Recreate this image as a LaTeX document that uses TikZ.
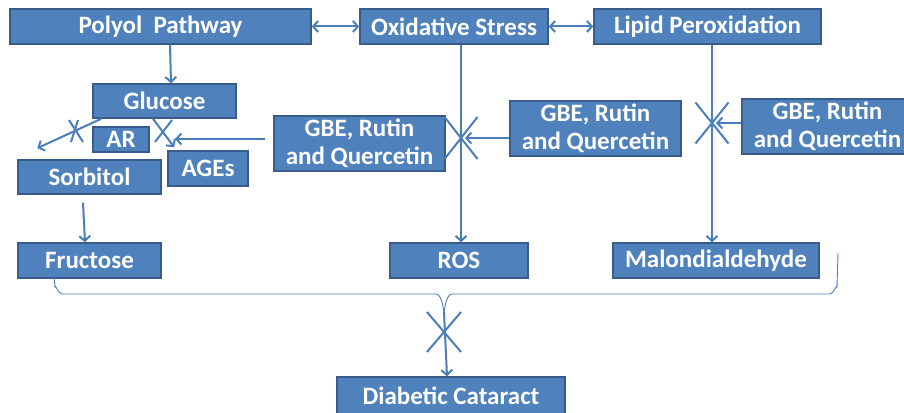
\documentclass[tikz,border=0pt]{standalone}
\usepackage{fontspec}
\setmainfont{Carlito}
\usetikzlibrary{arrows.meta}
\definecolor{boxfill}{HTML}{4F81BD}
\definecolor{boxline}{HTML}{385D8A}
\definecolor{linkblue}{HTML}{4A7EBB}
\begin{document}
\begin{tikzpicture}[x = 1pt, y = -1pt, line width = 2pt,
		box/.style = {draw = boxline, fill = boxfill, line width = 1.5pt, text = white,
			font = \fontsize{25}{28}\selectfont\bfseries, inner sep = 0pt, align = center,
			minimum height = 35pt},
		link/.style = {draw = linkblue, -{Straight Barb[length = 5pt, width = 11pt]}},
		twoway/.style = {draw = linkblue,
			{Straight Barb[length = 5pt, width = 11pt]}-{Straight Barb[length = 5pt, width = 11pt]}},
		cross/.style = {draw = linkblue},
		brace/.style = {draw = linkblue, line width = 0.9pt}]
		\useasboundingbox (0,0) rectangle (904,412);
		% top row
		\node [box, minimum width = 301pt] (polyol) at (160.5,26.5) {Polyol~ Pathway};
		\node [box, minimum width = 188pt] (oxid) at (454,26.5) {Oxidative Stress};
		\node [box, minimum width = 227pt] (lipid) at (707.5,26.5) {Lipid Peroxidation};
		% polyol branch
		\node [box, minimum width = 143pt, minimum height = 34pt] (glucose) at (164.5,101) {Glucose};
		\node [box, minimum width = 56pt, minimum height = 25pt] (ar) at (121,139.5) {AR};
		\node [box, minimum width = 143pt, minimum height = 34pt] (sorbitol) at (89.5,177) {Sorbitol};
		\node [box, minimum width = 80pt] (ages) at (208,168.5) {AGEs};
		% inhibitors
		\node [box, minimum width = 171pt, minimum height = 55pt] (gbeA) at (359.5,143.5) {GBE, Rutin\\and Quercetin};
		\node [box, minimum width = 171pt, minimum height = 55pt] (gbeB) at (595.5,128.5) {GBE, Rutin\\and Quercetin};
		\node [box, minimum width = 171pt, minimum height = 55pt] (gbeC) at (827.5,126.5) {GBE, Rutin\\and Quercetin};
		% products
		\node [box, minimum width = 143pt] (fructose) at (89.5,260.5) {Fructose};
		\node [box, minimum width = 138pt] (ros) at (459,260.5) {ROS};
		\node [box, minimum width = 206pt] (malon) at (716,260.5) {Malondialdehyde};
		\node [box, minimum width = 228pt, minimum height = 37pt] (cataract) at (451,395.5) {Diabetic Cataract};
		% points on the lines
		\coordinate (xglu) at (76,131);
		\coordinate (xage) at (163,131);
		\coordinate (agestip) at (175,139);
		\coordinate (xros) at (461,138);
		\coordinate (xmal) at (712,123);
		\coordinate (xcat) at (444,332);
		\coordinate (bracetip) at (444,312);
		% arrows
		\draw [twoway] (polyol) -- (oxid);
		\draw [twoway] (oxid) -- (lipid);
		\draw [link] ([xshift = 9.5pt]polyol.south) -- ([xshift = 6.5pt]glucose.north);
		\draw [link] ([xshift = 9pt]glucose.south west) -- ([xshift = 20pt, yshift = 11pt]sorbitol.north west);
		\draw [link] ([xshift = -11.5pt]glucose.south) -- ([xshift = 7pt, yshift = 3pt]ages.north west);
		\draw [link] ([xshift = -8pt, yshift = 4.5pt]gbeA.west) -- (agestip);
		\draw [link] ([xshift = -6.5pt, yshift = -8pt]sorbitol.south) -- ([xshift = -4.5pt]fructose.north);
		\draw [link] ([xshift = 7pt]oxid.south) -- ([xshift = 2pt]ros.north);
		\draw [link] ([yshift = -9.5pt]gbeB.west) -- ([xshift = 4pt]xros);
		\draw [link] ([xshift = 4.5pt]lipid.south) -- ([xshift = -4pt]malon.north);
		\draw [link] ([yshift = 3.5pt]gbeC.west) -- ([xshift = 4pt]xmal);
		\draw [link] (bracetip) -- ([xshift = -4pt]cataract.north);
		% blocked steps
		\draw [cross, shift = {(xglu)}] (-7,-11) -- (7,11) (2,-11) -- (-5,11);
		\draw [cross, shift = {(xage)}] (-8,11) -- (9,-11);
		\draw [cross, shift = {(xros)}] (-16.5,-21) -- (16.5,21) (-16.5,21) -- (16.5,-21);
		\draw [cross, shift = {(xmal)}] (-16.5,-20.5) -- (16.5,20.5) (-16.5,20.5) -- (16.5,-20.5);
		\draw [cross, shift = {(xcat)}] (-17,-20) -- (17,20) (-17,20) -- (17,-20);
		% brace
		\draw [brace] (54,277) -- (55,287) to [out = 90, in = 180] (62,294) -- (436,294)
			to [out = 0, in = -90] (bracetip);
		\draw [brace] (838,253) -- (837,287) to [out = 90, in = 0] (830,294) -- (452,294)
			to [out = 180, in = -90] (bracetip);
	\end{tikzpicture}
\end{document}
